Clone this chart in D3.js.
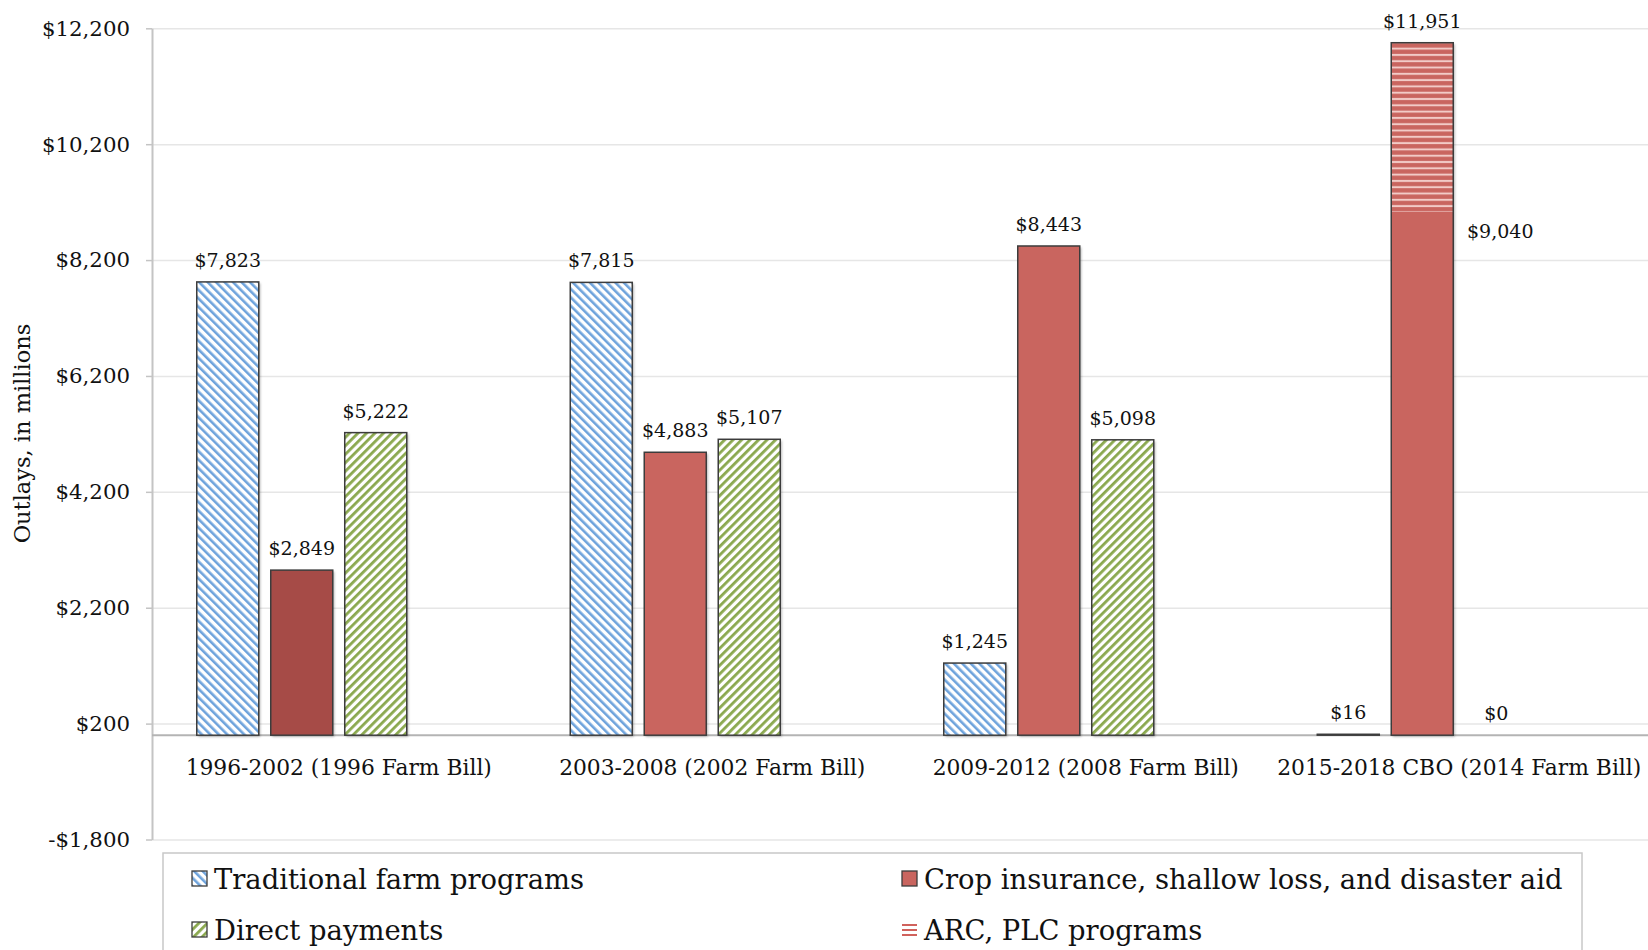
<!DOCTYPE html>
<html>
<head>
<meta charset="utf-8">
<script src="https://cdn.jsdelivr.net/npm/d3@7"></script>
<style>
  body { margin: 0; background: #fff; }
  text { font-family: 'DejaVu Serif', serif; fill: #111; }
</style>
</head>
<body>
<div id="chart"></div>
<script>
// Data (outlays, $ millions)
const categories = [
  '1996-2002 (1996 Farm Bill)',
  '2003-2008 (2002 Farm Bill)',
  '2009-2012 (2008 Farm Bill)',
  '2015-2018 CBO (2014 Farm Bill)'
]
const traditional = [7823, 7815, 1245, 16]
const cropInsurance = [2849, 4883, 8443, 9040]
const directPayments = [5222, 5107, 5098, 0]
const arcPlc = [0, 0, 0, 2911]
const yTicks = [-1800, 200, 2200, 4200, 6200, 8200, 10200, 12200]
const seriesNames = [
  'Traditional farm programs',
  'Crop insurance, shallow loss, and disaster aid',
  'Direct payments',
  'ARC, PLC programs'
]

;(() => {
  const width = 1648
  const height = 950
  const plotLeft = 152
  const plotRight = 1646
  const plotTop = 28.3
  const plotBottom = 839.5

  const svg = d3.select('#chart')
    .append('svg')
    .attr('width', width)
    .attr('height', height)

  const defs = svg.append('defs')

  // Hatch patterns
  const hatch = (id, color, angle, lineW) => {
    const p = defs.append('pattern')
      .attr('id', id)
      .attr('patternUnits', 'userSpaceOnUse')
      .attr('width', 6)
      .attr('height', 10)
      .attr('patternTransform', `rotate(${angle})`)
    p.append('rect').attr('width', 6).attr('height', 10).attr('fill', '#fff')
    p.append('rect').attr('width', lineW).attr('height', 10).attr('fill', color)
  }
  hatch('blue-hatch', '#6ea3dc', -45, 2.6)
  hatch('green-hatch', '#8aa84e', 45, 2.8)

  const arcPat = defs.append('pattern')
    .attr('id', 'arc-lines')
    .attr('patternUnits', 'userSpaceOnUse')
    .attr('width', 10)
    .attr('height', 6.3)
  arcPat.append('rect').attr('width', 10).attr('height', 6.3).attr('fill', '#c9655f')
  arcPat.append('rect').attr('y', 3.5).attr('width', 10).attr('height', 2).attr('fill', '#f2cbc7')

  // Soft shadow like the spreadsheet bars
  const shadow = defs.append('filter')
    .attr('id', 'shadow')
    .attr('x', '-20%').attr('y', '-20%')
    .attr('width', '140%').attr('height', '140%')
  shadow.append('feDropShadow')
    .attr('dx', 1.5).attr('dy', 1.5)
    .attr('stdDeviation', 1.2)
    .attr('flood-opacity', 0.3)

  //=======================================================

  const y = d3.scaleLinear()
    .domain([-1800, 12200])
    .range([plotBottom, plotTop])

  const x0 = d3.scaleBand()
    .domain(categories)
    .range([plotLeft, plotRight])
    .padding(0)

  const x1 = d3.scaleBand()
    .domain(['traditional', 'crop', 'direct', 'spare'])
    .range([0, x0.bandwidth()])
    .paddingInner(0.162)
    .paddingOuter(0.605)

  const money = d => (d < 0 ? '-$' : '$') + d3.format(',')(Math.abs(d))

  // Y gridlines
  svg.append('g')
    .attr('transform', `translate(${plotLeft}, 0)`)
    .call(
      d3.axisLeft(y)
        .tickValues(yTicks)
        .tickSize(-(width - plotLeft))
        .tickFormat('')
    )
    .call(g => g.select('.domain').remove())
    .call(g => g.selectAll('line').attr('stroke', '#e6e6e6').attr('stroke-width', 1.5))

  // Left axis
  svg.append('g')
    .attr('transform', `translate(${plotLeft}, 0)`)
    .call(
      d3.axisLeft(y)
        .tickValues(yTicks)
        .tickSize(6)
        .tickSizeOuter(0)
        .tickPadding(16)
        .tickFormat(money)
    )
    .call(g => g.select('.domain').attr('stroke', '#c4c4c4').attr('stroke-width', 2))
    .call(g => g.selectAll('.tick line').attr('stroke', '#c4c4c4').attr('stroke-width', 1.5))
    .call(g => g.selectAll('.tick text')
      .attr('font-family', "'DejaVu Serif', serif")
      .attr('font-size', 21.3)
      .attr('fill', '#111'))

  // Zero line
  svg.append('line')
    .attr('x1', plotLeft)
    .attr('x2', width)
    .attr('y1', y(0))
    .attr('y2', y(0))
    .attr('stroke', '#b4b4b4')
    .attr('stroke-width', 2)

  // Y title
  svg.append('text')
    .attr('transform', `translate(30, ${(324 + 543) / 2}) rotate(-90)`)
    .attr('text-anchor', 'middle')
    .attr('font-size', 22.5)
    .text('Outlays, in millions')

  // Category labels
  svg.append('g')
    .selectAll('text')
    .data(categories)
    .join('text')
    .attr('x', d => x0(d) + x0.bandwidth() / 2)
    .attr('y', 775)
    .attr('text-anchor', 'middle')
    .attr('font-size', 21.8)
    .text(d => d)

  //=======================================================

  // Build bar segments
  const bars = []
  categories.forEach((c, i) => {
    bars.push({ cat: c, slot: 'traditional', y0: 0, y1: traditional[i], fill: 'url(#blue-hatch)' })
    bars.push({ cat: c, slot: 'crop', y0: 0, y1: cropInsurance[i], fill: i === 0 ? '#a64b47' : '#c9655f' })
    if (arcPlc[i] > 0) {
      bars.push({ cat: c, slot: 'crop', y0: cropInsurance[i], y1: cropInsurance[i] + arcPlc[i], fill: 'url(#arc-lines)' })
    }
    bars.push({ cat: c, slot: 'direct', y0: 0, y1: directPayments[i], fill: 'url(#green-hatch)' })
  })

  // Outline per column (stacked segments share one border)
  const columns = []
  categories.forEach((c, i) => {
    columns.push({ cat: c, slot: 'traditional', top: traditional[i] })
    columns.push({ cat: c, slot: 'crop', top: cropInsurance[i] + arcPlc[i] })
    columns.push({ cat: c, slot: 'direct', top: directPayments[i] })
  })

  const barG = svg.append('g')

  barG.selectAll('rect.shadow')
    .data(columns.filter(d => d.top !== 0))
    .join('rect')
    .attr('class', 'shadow')
    .attr('x', d => x0(d.cat) + x1(d.slot))
    .attr('width', x1.bandwidth())
    .attr('y', d => y(d.top))
    .attr('height', d => Math.max(1, y(0) - y(d.top)))
    .attr('fill', '#fff')
    .attr('filter', 'url(#shadow)')

  barG.selectAll('rect.seg')
    .data(bars.filter(d => d.y1 !== d.y0))
    .join('rect')
    .attr('class', 'seg')
    .attr('x', d => x0(d.cat) + x1(d.slot))
    .attr('width', x1.bandwidth())
    .attr('y', d => y(d.y1))
    .attr('height', d => y(d.y0) - y(d.y1))
    .attr('fill', d => d.fill)

  barG.selectAll('rect.outline')
    .data(columns.filter(d => d.top !== 0))
    .join('rect')
    .attr('class', 'outline')
    .attr('x', d => x0(d.cat) + x1(d.slot))
    .attr('width', x1.bandwidth())
    .attr('y', d => y(d.top))
    .attr('height', d => Math.max(0.5, y(0) - y(d.top)))
    .attr('fill', 'none')
    .attr('stroke', '#3c3c3c')
    .attr('stroke-width', 1.5)

  // Value labels
  const labels = []
  categories.forEach((c, i) => {
    labels.push({ cat: c, slot: 'traditional', v: traditional[i], top: traditional[i], below: false })
    if (arcPlc[i] > 0) {
      labels.push({ cat: c, slot: 'crop', v: cropInsurance[i] + arcPlc[i], top: cropInsurance[i] + arcPlc[i], below: false })
      labels.push({ cat: c, slot: 'direct', v: cropInsurance[i], top: cropInsurance[i], below: true })
    } else {
      labels.push({ cat: c, slot: 'crop', v: cropInsurance[i], top: cropInsurance[i], below: false })
    }
    labels.push({ cat: c, slot: 'direct', v: directPayments[i], top: directPayments[i], below: false })
  })

  svg.append('g')
    .selectAll('text')
    .data(labels)
    .join('text')
    .attr('x', d => x0(d.cat) + x1(d.slot) + x1.bandwidth() / 2 + (d.below ? 4 : 0))
    .attr('y', d => d.below ? y(d.top) + 27 : y(Math.max(d.top, 0)) - 15)
    .attr('text-anchor', 'middle')
    .attr('font-size', 19)
    .text(d => money(d.v))

  //=======================================================

  // Legend
  const legend = svg.append('g')
  legend.append('rect')
    .attr('x', 163)
    .attr('y', 853)
    .attr('width', 1419)
    .attr('height', 140)
    .attr('fill', '#fff')
    .attr('stroke', '#c8c8c8')
    .attr('stroke-width', 1.5)

  const legendPos = [
    { x: 192, y: 871 },
    { x: 902, y: 871 },
    { x: 192, y: 922 },
    { x: 902, y: 922 }
  ]
  const legendFill = ['url(#blue-hatch)', '#c9655f', 'url(#green-hatch)', null]

  seriesNames.forEach((name, i) => {
    const p = legendPos[i]
    if (legendFill[i]) {
      legend.append('rect')
        .attr('x', p.x)
        .attr('y', p.y)
        .attr('width', 15)
        .attr('height', 15)
        .attr('fill', legendFill[i])
        .attr('stroke', '#3c3c3c')
        .attr('stroke-width', 1.3)
    } else {
      [3, 8, 13].forEach(dy => {
        legend.append('line')
          .attr('x1', p.x)
          .attr('x2', p.x + 15)
          .attr('y1', p.y + dy)
          .attr('y2', p.y + dy)
          .attr('stroke', '#d0625c')
          .attr('stroke-width', 2)
      })
    }
    legend.append('text')
      .attr('x', p.x + 22)
      .attr('y', p.y + 18)
      .attr('font-size', 27.4)
      .text(name)
  })
})()
</script>
</body>
</html>
